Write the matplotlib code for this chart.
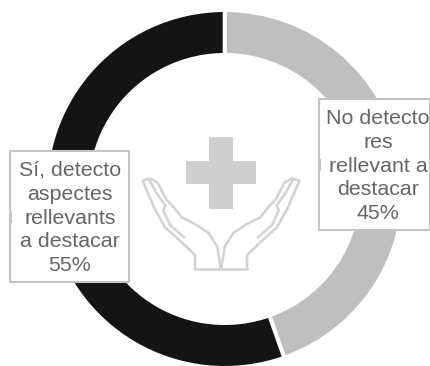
import matplotlib
matplotlib.use("Agg")
import matplotlib.pyplot as plt
from matplotlib.patches import Rectangle, Polygon

labels = ["No detecto\nres\nrellevant a\ndestacar", "Sí, detecto\naspectes\nrellevants\na destacar"]
values = [44.6, 55.4]
percent_labels = ["45%", "55%"]
colors = ["#bfbfbf", "#141414"]

W, H = 430, 366
CX, CY, R = 224.7, 189, 179
RING = 45
plt.rcParams['font.family'] = ['Liberation Sans', 'DejaVu Sans']
fig = plt.figure(figsize=(W / 100, H / 100), dpi=100, facecolor="white")

# donut
ax = fig.add_axes([(CX - R) / W, 1 - (CY + R) / H, 2 * R / W, 2 * R / H])
ax.pie(values, colors=colors, startangle=90, counterclock=False, radius=1,
       wedgeprops=dict(width=RING / R, edgecolor="white", linewidth=2.9))
ax.set_xlim(-1, 1)
ax.set_ylim(-1, 1)
ax.axis("off")

# overlay in pixel coordinates: icon and callouts
ov = fig.add_axes([0, 0, 1, 1], zorder=5)
ov.set_xlim(0, W)
ov.set_ylim(H, 0)
ov.axis("off")

ICON = "#d2d2d2"
def z(p):
    return [(x / 3 + 130, y / 3 + 120) for x, y in p]

ov.add_patch(Polygon(z([(238, 50), (309, 50), (309, 122), (379, 122), (379, 192), (309, 192),
                        (309, 267), (238, 267), (238, 192), (169, 192), (169, 122), (238, 122)]),
                     closed=True, fc="#cfcfcf", ec="none"))
outline = [(195, 447), (195, 405), (150, 362), (105, 322), (72, 262), (38, 182), (60, 175),
           (82, 187), (110, 240), (130, 260), (155, 292), (195, 312), (235, 338), (262, 380), (272, 445)]
inner1 = [(58, 180), (80, 220), (105, 255)]
inner2 = [(105, 258), (100, 272), (120, 315), (162, 352)]
mirror_x = 2 * (130 + 273 / 3)
for path in (outline, inner1, inner2):
    xs, ys = zip(*z(path))
    ov.plot(xs, ys, color=ICON, lw=1.8, solid_joinstyle="round")
    ov.plot([mirror_x - x for x in xs], ys, color=ICON, lw=1.8, solid_joinstyle="round")
xs, ys = zip(*z([(195, 447), (351, 447)]))
ov.plot(xs, ys, color=ICON, lw=1.8)

boxes = [(319, 99, 111, 131, 378), (10, 151, 119, 131, 70)]
for i in range(2):
    x, y, w, h, tx = boxes[i]
    ov.add_patch(Rectangle((x, y), w, h, fc="white", ec="#c4c4c4", lw=1.5, zorder=3))
    ov.add_patch(Rectangle((x - 1, y + h / 2 - 6), 2.5, 12, fc="#c4c4c4", ec="none", zorder=4))
    ov.text(tx, y + h / 2 + 1.5, f"{labels[i]}\n{percent_labels[i]}", ha="center", va="center",
            fontsize=15.4, color="#666666", linespacing=1.32, zorder=5)

fig.savefig("out.png", dpi=100, facecolor="white")
